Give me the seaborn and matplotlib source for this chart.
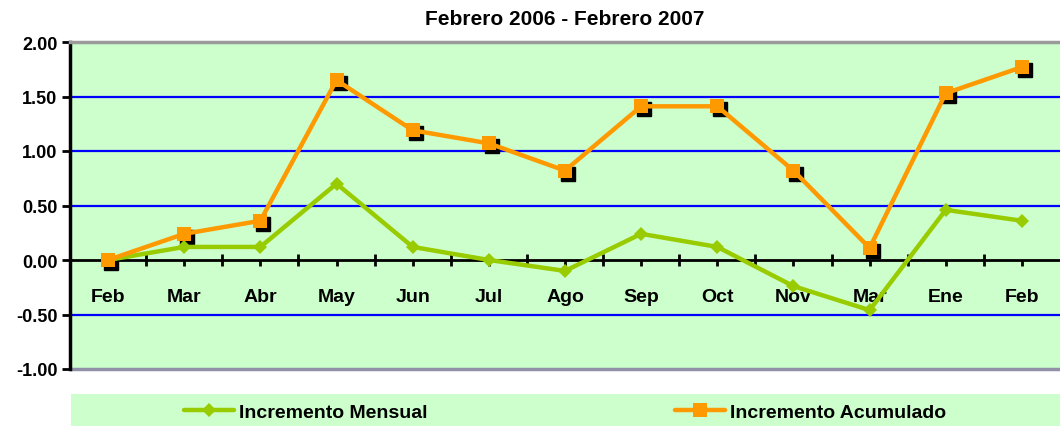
import numpy as np
import pandas as pd
import matplotlib
matplotlib.use('Agg')
import matplotlib.pyplot as plt
import matplotlib.transforms as mtransforms
from matplotlib.patches import Rectangle
from matplotlib.ticker import FixedLocator
import seaborn as sns

sns.set_theme(style='white')
plt.rcParams['font.family'] = ['Liberation Sans', 'DejaVu Sans']
plt.rcParams['text.color'] = 'black'
plt.rcParams['xtick.color'] = 'black'
plt.rcParams['ytick.color'] = 'black'

# data
months = ['Feb', 'Mar', 'Abr', 'May', 'Jun', 'Jul', 'Ago',
          'Sep', 'Oct', 'Nov', 'Mar', 'Ene', 'Feb']
mensual = [0.00, 0.12, 0.12, 0.70, 0.12, 0.00, -0.10,
           0.24, 0.12, -0.24, -0.46, 0.46, 0.36]
acumulado = [0.00, 0.24, 0.36, 1.65, 1.19, 1.07, 0.82,
             1.41, 1.41, 0.82, 0.11, 1.53, 1.77]
y_ticks = [-1.0, -0.5, 0.0, 0.5, 1.0, 1.5, 2.0]

df = pd.DataFrame({'pos': np.arange(len(months)),
                   'mensual': mensual,
                   'acumulado': acumulado})

W, H = 1060, 427
fig = plt.figure(figsize=(W / 100, H / 100), dpi=100)
fig.patch.set_facecolor('white')

ax = fig.add_axes([70 / W, (H - 370) / H, 990 / W, 327 / H])
ax.set_facecolor('#CCFFCC')

# gridlines
for v in [-0.5, 0.5, 1.0, 1.5]:
    ax.axhline(v, color='#0000FF', lw=1.6, zorder=1)
ax.axhline(-1.0, color='#9090A8', lw=2.5, zorder=1, clip_on=False)

sns.lineplot(data=df, x='pos', y='mensual', ax=ax, color='#99CC00',
             lw=3.2, marker='D', markersize=7, markeredgewidth=0,
             label='Incremento Mensual', zorder=4)

# black shadow behind the squares
shadow = mtransforms.offset_copy(ax.transData, fig=fig, x=3, y=-3, units='dots')
ax.plot(df['pos'], df['acumulado'], ls='none', marker='s', markersize=10,
        color='black', transform=shadow, zorder=3)
sns.lineplot(data=df, x='pos', y='acumulado', ax=ax, color='#FF9900',
             lw=3.2, marker='s', markersize=10, markeredgewidth=0,
             label='Incremento Acumulado', zorder=5)

ax.set_xlim(-0.5, len(months) - 0.5)
ax.set_ylim(-1.0, 2.0)
ax.set_yticks(y_ticks)
ax.set_yticklabels([f'{v:.2f}' for v in y_ticks], fontsize=13, fontweight='bold')
ax.tick_params(axis='y', direction='out', length=6, width=2, color='black', left=True, pad=3)

ax.spines['bottom'].set_position(('data', 0))
ax.spines['bottom'].set_linewidth(2)
ax.spines['bottom'].set_color('black')
ax.spines['bottom'].set_zorder(2)
ax.spines['left'].set_linewidth(2.5)
ax.spines['left'].set_color('black')
ax.spines['top'].set_color('#9A9A9A')
ax.spines['top'].set_linewidth(2.5)
ax.spines['right'].set_visible(False)

ax.set_xticks(df['pos'])
ax.set_xticklabels(months, fontsize=14, fontweight='bold')
ax.xaxis.set_minor_locator(FixedLocator(np.arange(0.5, len(months) - 0.5, 1)))
ax.tick_params(axis='x', which='major', direction='out', length=4, width=2,
               color='black', bottom=True, pad=16)
ax.tick_params(axis='x', which='minor', direction='inout', length=9, width=2,
               color='black', bottom=True)
ax.set_xlabel('')
ax.set_ylabel('')
ax.grid(False)

ax.set_title('Febrero 2006 - Febrero 2007', fontsize=15, fontweight='bold', pad=13)

# legend strip at the bottom
handles, labels = ax.get_legend_handles_labels()
ax.get_legend().remove()
fig.patches.append(Rectangle((71 / W, 0), 989 / W, 32 / H, transform=fig.transFigure,
                             facecolor='#CCFFCC', edgecolor='none', zorder=0))
fig.legend(handles, labels, loc='center', bbox_to_anchor=(565 / W, 14 / H),
           ncol=2, frameon=False, columnspacing=12.7, handlelength=2.6, handletextpad=0.25,
           borderpad=0, prop={'size': 14, 'weight': 'bold'})

fig.savefig('out.png', dpi=100, facecolor='white')
